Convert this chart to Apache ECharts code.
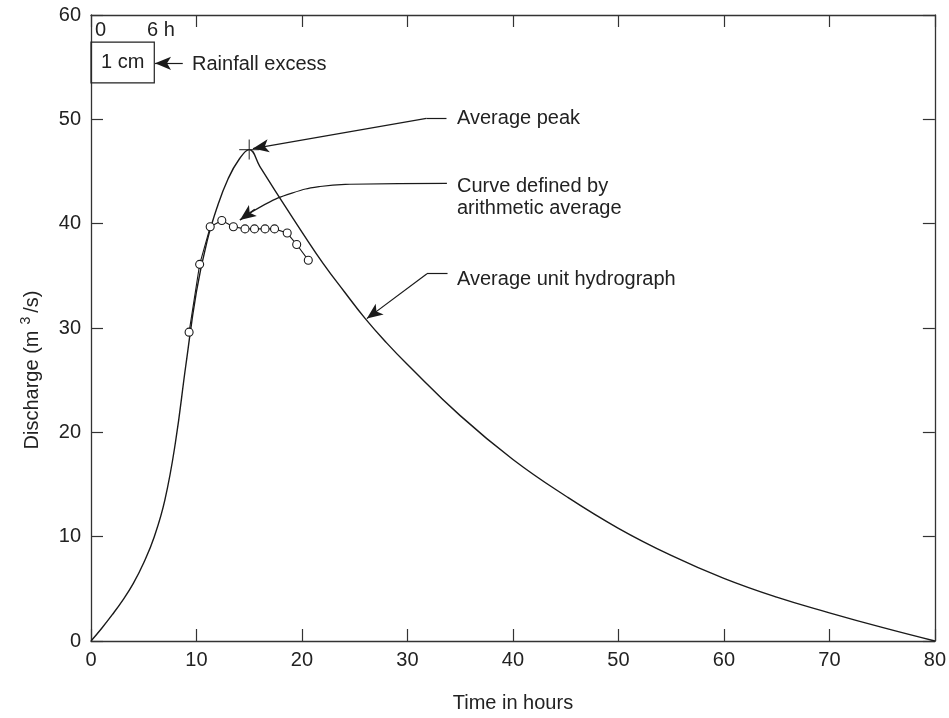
<!DOCTYPE html>
<html>
<head>
<meta charset="utf-8">
<style>
  html, body { margin: 0; padding: 0; background: #fff; }
  #chart { width: 949px; height: 718px; }
</style>
<script src="https://cdn.jsdelivr.net/npm/echarts@6/dist/echarts.min.js"></script>
</head>
<body>
<div id="chart"></div>
<script>
// ---- data ----
const xRange = [0, 80];          // Time in hours
const yRange = [0, 60];          // Discharge (m3/s)
const tickStep = 10;

// Average unit hydrograph (solid curve)
const hydroTime = [0, 1, 2, 3, 4, 5, 6, 7, 8, 9, 10, 11, 12, 13, 14, 15, 16, 18, 20, 22, 24, 26, 28, 30, 35, 40, 45, 50, 55, 60, 65, 70, 75, 80];
const hydroQ    = [0, 1.2, 2.5, 3.9, 5.5, 7.5, 10.0, 13.5, 19.0, 26.5, 33.5, 38.3, 41.7, 44.3, 46.1, 47.1, 45.5, 42.3, 39.2, 36.2, 33.5, 30.9, 28.6, 26.5, 21.6, 17.4, 13.9, 10.8, 8.2, 6.0, 4.2, 2.7, 1.3, 0];

// Curve defined by arithmetic average (open circles)
const avgTime = [9.3, 10.3, 11.3, 12.4, 13.5, 14.6, 15.5, 16.5, 17.4, 18.6, 19.5, 20.6];
const avgQ    = [29.6, 36.1, 39.7, 40.3, 39.7, 39.5, 39.5, 39.5, 39.5, 39.1, 38.0, 36.5];

// Average peak
const peakTime = [15];
const peakQ = [47.1];

// Rainfall excess block (0 - 6 h, 1 cm)
const rainStart = 0, rainEnd = 6;
const rainBox = [53.5, 57.4];

// Annotation leader lines (data coordinates)
const leaderPeak   = [[33.7, 50.1], [31.8, 50.1], [15.35, 47.2]];
const leaderAvgX   = [33.74, 24.55, 21.71, 19.05, 16.49, 14.12];
const leaderAvgY   = [43.87, 43.78, 43.56, 42.93, 41.85, 40.36];
const leaderAvgHead = [[15.52, 41.39], [14.12, 40.36]];
const leaderUnit   = [[33.8, 35.2], [31.85, 35.2], [26.15, 30.9]];
const leaderRain   = [[8.7, 55.37], [6.07, 55.37]];

// ---- chart ----
const FONT = '"Liberation Sans", Arial, Helvetica, sans-serif';
const INK = '#1a1a1a';
const TXT = '#222';

const chart = echarts.init(document.getElementById('chart'));

function zip(a, b) { return a.map((v, i) => [v, b[i]]); }

const arrowStyle = { color: INK, width: 1.2, type: 'solid' };
function seg(p, q, withArrow) {
  return [{ coord: p, symbol: 'none' }, { coord: q, symbol: withArrow ? 'arrow' : 'none' }];
}

const axisCommon = {
  type: 'value',
  interval: tickStep,
  axisLine: { show: true, onZero: false, lineStyle: { color: '#333', width: 1.3 } },
  axisTick: { show: true, inside: true, length: 12, lineStyle: { color: '#333', width: 1.2 } },
  splitLine: { show: false },
};

chart.setOption({
  backgroundColor: '#fff',
  animation: false,
  textStyle: { fontFamily: FONT },
  grid: { left: 91, right: 14, top: 15, bottom: 71 },
  xAxis: [
    Object.assign({}, axisCommon, {
      position: 'bottom', min: xRange[0], max: xRange[1],
      name: 'Time in hours', nameLocation: 'middle', nameGap: 52,
      nameTextStyle: { fontSize: 20, color: TXT, fontFamily: FONT },
      axisLabel: { fontSize: 20, color: TXT, margin: 9, fontFamily: FONT }
    }),
    Object.assign({}, axisCommon, {
      position: 'top', min: xRange[0], max: xRange[1],
      axisLabel: { show: false }
    })
  ],
  yAxis: [
    Object.assign({}, axisCommon, {
      position: 'left', min: yRange[0], max: yRange[1],
      name: 'Discharge (m{sup|3}/s)', nameLocation: 'middle', nameGap: 46, nameRotate: 90,
      nameTextStyle: {
        fontSize: 20, color: TXT, fontFamily: FONT,
        padding: [0, 84, 0, 0],
        rich: { sup: { fontSize: 14, color: TXT, fontFamily: FONT, verticalAlign: 'top', padding: [0, 4, 12, 6] } }
      },
      axisLabel: { fontSize: 20, color: TXT, margin: 10, fontFamily: FONT }
    }),
    Object.assign({}, axisCommon, {
      position: 'right', min: yRange[0], max: yRange[1],
      axisLabel: { show: false }
    })
  ],
  series: [
    {
      name: 'Average unit hydrograph',
      type: 'line',
      data: zip(hydroTime, hydroQ),
      smooth: 0.45,
      showSymbol: false,
      symbol: 'none',
      lineStyle: { color: INK, width: 1.4 },
      silent: true,
      z: 3,
      markLine: {
        silent: true,
        animation: false,
        symbolSize: [10, 16],
        label: { show: false },
        lineStyle: arrowStyle,
        emphasis: { disabled: true },
        data: [
          seg(leaderPeak[0], leaderPeak[1], false),
          seg(leaderPeak[1], leaderPeak[2], true),
          seg(leaderAvgHead[0], leaderAvgHead[1], true),
          seg(leaderUnit[0], leaderUnit[1], false),
          seg(leaderUnit[1], leaderUnit[2], true),
          seg(leaderRain[0], leaderRain[1], true)
        ]
      },
      markArea: {
        silent: true,
        itemStyle: { color: 'rgba(0,0,0,0)', borderColor: '#222', borderWidth: 1.2 },
        label: { show: true, position: 'inside', formatter: '1 cm', fontSize: 20, color: TXT, fontFamily: FONT },
        emphasis: { disabled: true },
        data: [[{ coord: [rainStart, rainBox[0]] }, { coord: [rainEnd, rainBox[1]] }]]
      }
    },
    {
      name: 'leader-average',
      type: 'line',
      data: zip(leaderAvgX, leaderAvgY),
      smooth: 0.5,
      showSymbol: false,
      symbol: 'none',
      lineStyle: { color: INK, width: 1.2 },
      silent: true,
      z: 2
    },
    {
      name: 'Curve defined by arithmetic average',
      type: 'line',
      data: zip(avgTime, avgQ),
      symbol: 'circle',
      symbolSize: 8,
      itemStyle: { color: '#fff', borderColor: INK, borderWidth: 1.1 },
      lineStyle: { color: INK, width: 1.1 },
      silent: true,
      z: 4
    },
    {
      name: 'Average peak',
      type: 'scatter',
      data: zip(peakTime, peakQ),
      symbol: 'path://M-0.6,-10 L0.6,-10 L0.6,-0.6 L10,-0.6 L10,0.6 L0.6,0.6 L0.6,10 L-0.6,10 L-0.6,0.6 L-10,0.6 L-10,-0.6 L-0.6,-0.6 Z',
      symbolSize: 20,
      itemStyle: { color: INK },
      silent: true,
      z: 5
    }
  ],
  graphic: [
    { type: 'text', left: 457, top: 108, style: { text: 'Average peak', font: '20px ' + FONT, fill: TXT } },
    { type: 'text', left: 457, top: 175, style: { text: 'Curve defined by\narithmetic average', font: '20px ' + FONT, fill: TXT, lineHeight: 22 } },
    { type: 'text', left: 457, top: 269, style: { text: 'Average unit hydrograph', font: '20px ' + FONT, fill: TXT } },
    { type: 'text', left: 192, top: 54, style: { text: 'Rainfall excess', font: '20px ' + FONT, fill: TXT } },
    { type: 'text', left: 95, top: 20, style: { text: '0', font: '20px ' + FONT, fill: TXT } },
    { type: 'text', left: 147, top: 20, style: { text: '6 h', font: '20px ' + FONT, fill: TXT } }
  ]
});
</script>
</body>
</html>
